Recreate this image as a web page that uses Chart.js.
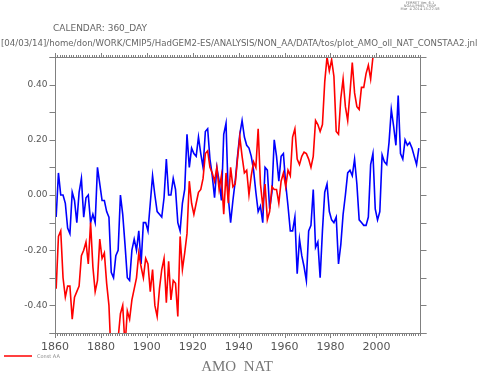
<!DOCTYPE html>
<html>
<head>
<meta charset="utf-8">
<script src="https://cdn.jsdelivr.net/npm/chart.js@4.4.0/dist/chart.umd.min.js"></script>
<style>
  body { margin: 0; background: #fff; }
  #wrap { width: 479px; height: 374px; }
</style>
</head>
<body>
<div id="wrap"><canvas id="amo_chart" width="479" height="374"></canvas></div>
<script>
// DATA
const firstYear = 1860, lastYear = 2018;
const years = [];
for (let yr = firstYear; yr <= lastYear; yr++) years.push(yr);

// blue line (no legend entry)
const natValues = [
  -0.08, 0.08, 0.00, 0.00, -0.03, -0.12, -0.14, 0.01, -0.02, -0.10,
  0.01, 0.06, -0.08, -0.01, 0.00, -0.10, -0.07, -0.10, 0.10, 0.04,
  -0.02, -0.02, -0.06, -0.08, -0.28, -0.30, -0.22, -0.20, 0.00, -0.07,
  -0.18, -0.30, -0.31, -0.20, -0.16, -0.20, -0.13, -0.25, -0.10, -0.10,
  -0.13, -0.03, 0.07, 0.00, -0.06, -0.07, -0.08, -0.01, 0.13, 0.00,
  0.00, 0.06, 0.02, -0.10, -0.13, -0.03, 0.02, 0.22, 0.10, 0.17,
  0.15, 0.14, 0.21, 0.15, 0.10, 0.23, 0.24, 0.13, 0.07, -0.01,
  0.10, 0.05, -0.02, 0.22, 0.26, -0.01, -0.10, -0.02, 0.05, 0.14,
  0.22, 0.27, 0.21, 0.18, 0.17, 0.14, 0.09, 0.01, -0.06, -0.04,
  -0.10, 0.10, 0.09, -0.05, 0.01, 0.20, 0.14, 0.05, 0.14, 0.15,
  0.04, -0.04, -0.13, -0.13, -0.08, -0.285, -0.16, -0.22, -0.26, -0.31,
  -0.13, -0.11, 0.02, -0.19, -0.17, -0.30, -0.13, 0.01, 0.04, -0.06,
  -0.09, -0.10, -0.08, -0.25, -0.18, -0.07, 0.00, 0.08, 0.09, 0.07,
  0.13, 0.04, -0.09, -0.10, -0.11, -0.11, -0.08, 0.11, 0.15, -0.05,
  -0.09, -0.06, 0.145, 0.12, 0.11, 0.19, 0.31, 0.25, 0.18, 0.36,
  0.15, 0.13, 0.20, 0.18, 0.19, 0.17, 0.14, 0.11, 0.17
];

// red line "Const AA" (runs off the top after ~2000)
const constAAValues = [
  -0.34, -0.15, -0.13, -0.30, -0.37, -0.33, -0.33, -0.45, -0.37, -0.35,
  -0.33, -0.22, -0.20, -0.17, -0.25, -0.10, -0.26, -0.35, -0.31, -0.16,
  -0.23, -0.21, -0.32, -0.40, -0.60, -0.62, -0.58, -0.52, -0.43, -0.40,
  -0.55, -0.42, -0.45, -0.38, -0.34, -0.30, -0.21, -0.26, -0.30, -0.23,
  -0.25, -0.35, -0.27, -0.40, -0.44, -0.34, -0.27, -0.23, -0.39, -0.24,
  -0.38, -0.31, -0.32, -0.44, -0.15, -0.27, -0.21, -0.14, 0.05, -0.03,
  -0.07, -0.03, 0.01, 0.02, 0.06, 0.15, 0.16, 0.10, 0.08, 0.05,
  0.10, 0.02, 0.07, -0.07, 0.08, -0.03, 0.10, 0.03, 0.04, 0.13,
  0.21, 0.14, 0.08, 0.09, 0.00, 0.07, 0.12, 0.10, 0.24, 0.04,
  -0.04, 0.04, -0.09, -0.06, 0.03, 0.02, 0.02, -0.03, 0.05, 0.08,
  0.03, 0.09, 0.07, 0.21, 0.24, 0.13, 0.11, 0.14, 0.155, 0.15,
  0.13, 0.10, 0.14, 0.27, 0.255, 0.23, 0.255, 0.41, 0.50, 0.45,
  0.49, 0.43, 0.23, 0.22, 0.35, 0.42, 0.32, 0.27, 0.37, 0.48,
  0.37, 0.32, 0.31, 0.39, 0.39, 0.44, 0.47, 0.42, 0.50, 0.55,
  0.60
];

const xTickLabels = [1860, 1880, 1900, 1920, 1940, 1960, 1980, 2000];
const yTickLabels = [-0.40, -0.20, 0.00, 0.20, 0.40];

const plotTitle = 'AMO  NAT';
const calendarText = 'CALENDAR: 360_DAY';
const pathText = '[04/03/14]/home/don/WORK/CMIP5/HadGEM2-ES/ANALYSIS/NON_AA/DATA/tos/plot_AMO_oll_NAT_CONSTAA2.jnl';
const ferretText = ['FERRET Ver. 6.1', 'NOAA/PMEL TMAP', 'Mar  4 2014 15:22:58'];

// annual values sit at mid-year
function toPoints(values) {
  return values.map((v, i) => ({ x: years[i] + 0.5, y: v }));
}

// frame, ticks and labels in ferret style
const ferretFrame = {
  id: 'ferretFrame',
  afterDraw(chart) {
    const ctx = chart.ctx;
    const a = chart.chartArea;
    const xs = chart.scales.x, ys = chart.scales.y;
    const L = Math.round(a.left) + 0.5, R = Math.round(a.right) + 0.5;
    const T = Math.round(a.top) + 0.5, B = Math.round(a.bottom) + 0.5;

    ctx.save();
    ctx.strokeStyle = '#808080';
    ctx.lineWidth = 1;
    ctx.beginPath();
    ctx.moveTo(L - 6, B); ctx.lineTo(R + 6, B);
    ctx.moveTo(L - 6, T); ctx.lineTo(R, T);
    ctx.moveTo(L, T); ctx.lineTo(L, B + 2);
    ctx.moveTo(R, T); ctx.lineTo(R, B);

    // year ticks on bottom and top
    for (let yr = firstYear; yr <= lastYear + 1; yr++) {
      const px = Math.round(xs.getPixelForValue(yr)) + 0.5;
      if (px < L - 0.6 || px > R + 0.6) continue;
      const len = yr % 20 === 0 ? 4.5 : 2.5;
      ctx.moveTo(px, B); ctx.lineTo(px, B + len);
      ctx.moveTo(px, T); ctx.lineTo(px, T - len);
    }
    // value ticks every 0.1 on left and right
    for (let k = -5; k <= 5; k++) {
      const py = Math.round(ys.getPixelForValue(k / 10)) + 0.5;
      ctx.moveTo(L, py); ctx.lineTo(L - 6, py);
      ctx.moveTo(R, py); ctx.lineTo(R + 6, py);
    }
    ctx.stroke();

    ctx.fillStyle = '#555';
    ctx.font = '11px "DejaVu Sans", sans-serif';
    ctx.textAlign = 'center';
    ctx.textBaseline = 'middle';
    xTickLabels.forEach(yr => {
      ctx.fillText(String(yr), xs.getPixelForValue(yr), B + 14);
    });
    ctx.font = '9px "DejaVu Sans", sans-serif';
    ctx.textAlign = 'right';
    yTickLabels.forEach(v => {
      ctx.fillText(v.toFixed(2), L - 8, ys.getPixelForValue(v));
    });

    // header texts
    ctx.textAlign = 'left';
    ctx.fillStyle = '#666';
    ctx.font = '9px "DejaVu Sans", sans-serif';
    ctx.fillText(calendarText, 53, 29);
    ctx.font = '10px "DejaVu Sans", sans-serif';
    const w = ctx.measureText(pathText).width;
    const fs = 10 * 477 / w;
    ctx.font = fs.toFixed(2) + 'px "DejaVu Sans", sans-serif';
    ctx.fillText(pathText, 1, 44);

    ctx.fillStyle = '#777';
    ctx.textAlign = 'center';
    ctx.font = '3.6px "DejaVu Sans", sans-serif';
    ferretText.forEach((t, i) => ctx.fillText(t, 420, 3 + i * 3));

    // legend for red series
    const red = chart.data.datasets[0];
    ctx.strokeStyle = red.borderColor;
    ctx.lineWidth = 1.5;
    ctx.beginPath();
    ctx.moveTo(4, 356); ctx.lineTo(32, 356);
    ctx.stroke();
    ctx.fillStyle = '#888';
    ctx.textAlign = 'left';
    ctx.font = '5px "DejaVu Sans", sans-serif';
    ctx.fillText(red.label, 37, 356.5);

    // title
    ctx.fillStyle = '#777';
    ctx.textAlign = 'center';
    ctx.font = '15px "Liberation Serif", serif';
    ctx.fillText(plotTitle, 237, 367);
    ctx.restore();
  }
};

const ctx = document.getElementById('amo_chart').getContext('2d');

new Chart(ctx, {
  type: 'line',
  data: {
    datasets: [{
      label: 'Const AA',
      data: toPoints(constAAValues),
      borderColor: '#ff0000',
      borderWidth: 1.6,
      pointRadius: 0,
      fill: false
    }, {
      label: 'NAT',
      data: toPoints(natValues),
      borderColor: '#0000ff',
      borderWidth: 1.6,
      pointRadius: 0,
      fill: false
    }]
  },
  options: {
    responsive: false,
    animation: false,
    layout: { padding: { left: 55, right: 59, top: 57, bottom: 41 } },
    plugins: { legend: { display: false }, tooltip: { enabled: false } },
    scales: {
      x: { type: 'linear', min: firstYear, max: lastYear + 1, display: false },
      y: { min: -0.5, max: 0.5, display: false }
    }
  },
  plugins: [ferretFrame]
});
</script>
</body>
</html>
